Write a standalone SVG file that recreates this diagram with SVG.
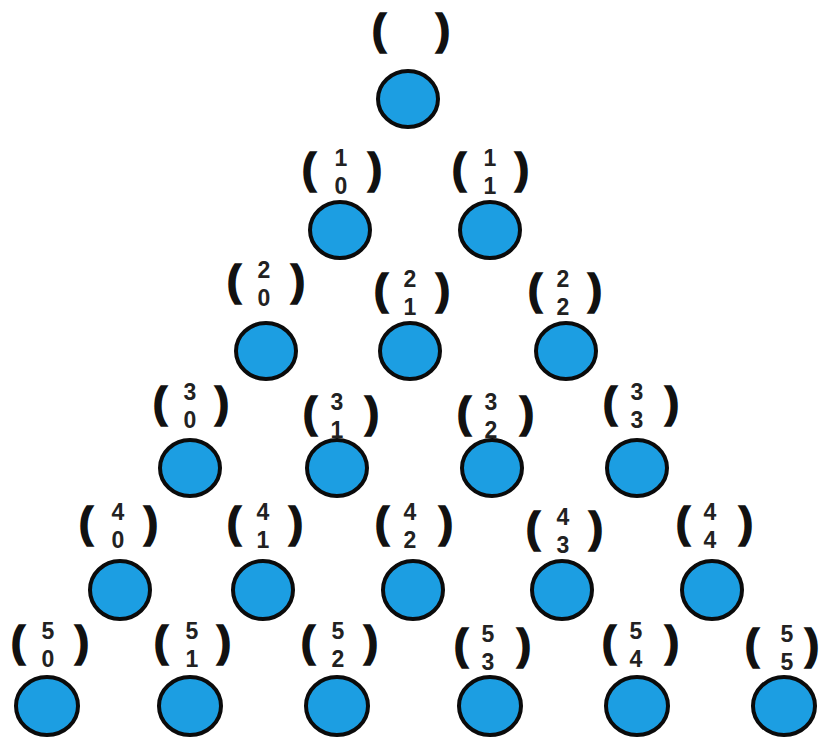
<svg xmlns="http://www.w3.org/2000/svg" width="820" height="738" viewBox="0 0 820 738">
<style>
.n{fill:#1C9EE2;stroke:#0b0b0b;stroke-width:4}
.p{font-family:"Liberation Sans",Arial,sans-serif;font-weight:bold;font-size:42px;fill:#111;stroke:#111;stroke-width:1.6;text-anchor:middle}
.d{font-family:"Liberation Sans",Arial,sans-serif;font-weight:bold;font-size:23px;fill:#222;text-anchor:middle}
</style>
<rect width="820" height="738" fill="#fff"/>
<g id="connectors"/>
<g id="n00"><ellipse class="n" cx="408" cy="99" rx="30" ry="28"/><text class="p" x="379" y="44">(</text><text class="p" x="443" y="44">)</text></g>
<g id="n10"><ellipse class="n" cx="340" cy="230" rx="30" ry="28"/><text class="p" x="309" y="183">(</text><text class="p" x="375" y="183">)</text><text class="d" x="341" y="166">1</text><text class="d" x="341" y="194">0</text></g>
<g id="n11"><ellipse class="n" cx="490" cy="230" rx="30" ry="28"/><text class="p" x="459" y="183">(</text><text class="p" x="522" y="183">)</text><text class="d" x="490" y="166">1</text><text class="d" x="490" y="194">1</text></g>
<g id="n20"><ellipse class="n" cx="266" cy="351" rx="30" ry="28"/><text class="p" x="234" y="295">(</text><text class="p" x="298" y="295">)</text><text class="d" x="264" y="278">2</text><text class="d" x="264" y="306">0</text></g>
<g id="n21"><ellipse class="n" cx="410" cy="351" rx="30" ry="28"/><text class="p" x="381" y="304">(</text><text class="p" x="443" y="304">)</text><text class="d" x="410" y="287">2</text><text class="d" x="410" y="315">1</text></g>
<g id="n22"><ellipse class="n" cx="566" cy="351" rx="30" ry="28"/><text class="p" x="535" y="304">(</text><text class="p" x="595" y="304">)</text><text class="d" x="563" y="287">2</text><text class="d" x="563" y="315">2</text></g>
<g id="n30"><ellipse class="n" cx="190" cy="468" rx="30" ry="28"/><text class="p" x="160" y="417">(</text><text class="p" x="222" y="417">)</text><text class="d" x="190" y="400">3</text><text class="d" x="190" y="428">0</text></g>
<g id="n31"><ellipse class="n" cx="337" cy="468" rx="30" ry="28"/><text class="p" x="310" y="427">(</text><text class="p" x="372" y="427">)</text><text class="d" x="337" y="410">3</text><text class="d" x="337" y="438">1</text></g>
<g id="n32"><ellipse class="n" cx="492" cy="468" rx="30" ry="28"/><text class="p" x="464" y="427">(</text><text class="p" x="527" y="427">)</text><text class="d" x="491" y="410">3</text><text class="d" x="491" y="438">2</text></g>
<g id="n33"><ellipse class="n" cx="637" cy="468" rx="30" ry="28"/><text class="p" x="610" y="417">(</text><text class="p" x="672" y="417">)</text><text class="d" x="637" y="400">3</text><text class="d" x="637" y="428">3</text></g>
<g id="n40"><ellipse class="n" cx="120" cy="590" rx="30" ry="29"/><text class="p" x="86" y="537">(</text><text class="p" x="151" y="537">)</text><text class="d" x="118" y="520">4</text><text class="d" x="118" y="548">0</text></g>
<g id="n41"><ellipse class="n" cx="263" cy="590" rx="30" ry="29"/><text class="p" x="234" y="537">(</text><text class="p" x="296" y="537">)</text><text class="d" x="263" y="520">4</text><text class="d" x="263" y="548">1</text></g>
<g id="n42"><ellipse class="n" cx="413" cy="590" rx="30" ry="29"/><text class="p" x="382" y="537">(</text><text class="p" x="446" y="537">)</text><text class="d" x="410" y="520">4</text><text class="d" x="410" y="548">2</text></g>
<g id="n43"><ellipse class="n" cx="562" cy="590" rx="30" ry="29"/><text class="p" x="533" y="542">(</text><text class="p" x="596" y="542">)</text><text class="d" x="563" y="525">4</text><text class="d" x="563" y="553">3</text></g>
<g id="n44"><ellipse class="n" cx="712" cy="590" rx="30" ry="29"/><text class="p" x="683" y="537">(</text><text class="p" x="746" y="537">)</text><text class="d" x="710" y="520">4</text><text class="d" x="710" y="548">4</text></g>
<g id="n50"><ellipse class="n" cx="47" cy="706" rx="31" ry="29"/><text class="p" x="18" y="656">(</text><text class="p" x="82" y="656">)</text><text class="d" x="48" y="639">5</text><text class="d" x="48" y="667">0</text></g>
<g id="n51"><ellipse class="n" cx="190" cy="706" rx="31" ry="29"/><text class="p" x="161" y="656">(</text><text class="p" x="224" y="656">)</text><text class="d" x="192" y="639">5</text><text class="d" x="192" y="667">1</text></g>
<g id="n52"><ellipse class="n" cx="337" cy="706" rx="31" ry="29"/><text class="p" x="308" y="656">(</text><text class="p" x="371" y="656">)</text><text class="d" x="338" y="639">5</text><text class="d" x="338" y="667">2</text></g>
<g id="n53"><ellipse class="n" cx="490" cy="706" rx="31" ry="29"/><text class="p" x="461" y="659">(</text><text class="p" x="524" y="659">)</text><text class="d" x="488" y="642">5</text><text class="d" x="488" y="670">3</text></g>
<g id="n54"><ellipse class="n" cx="637" cy="706" rx="31" ry="29"/><text class="p" x="609" y="656">(</text><text class="p" x="672" y="656">)</text><text class="d" x="636" y="639">5</text><text class="d" x="636" y="667">4</text></g>
<g id="n55"><ellipse class="n" cx="784" cy="706" rx="31" ry="29"/><text class="p" x="752" y="659">(</text><text class="p" x="812" y="659">)</text><text class="d" x="787" y="642">5</text><text class="d" x="787" y="670">5</text></g>
</svg>
